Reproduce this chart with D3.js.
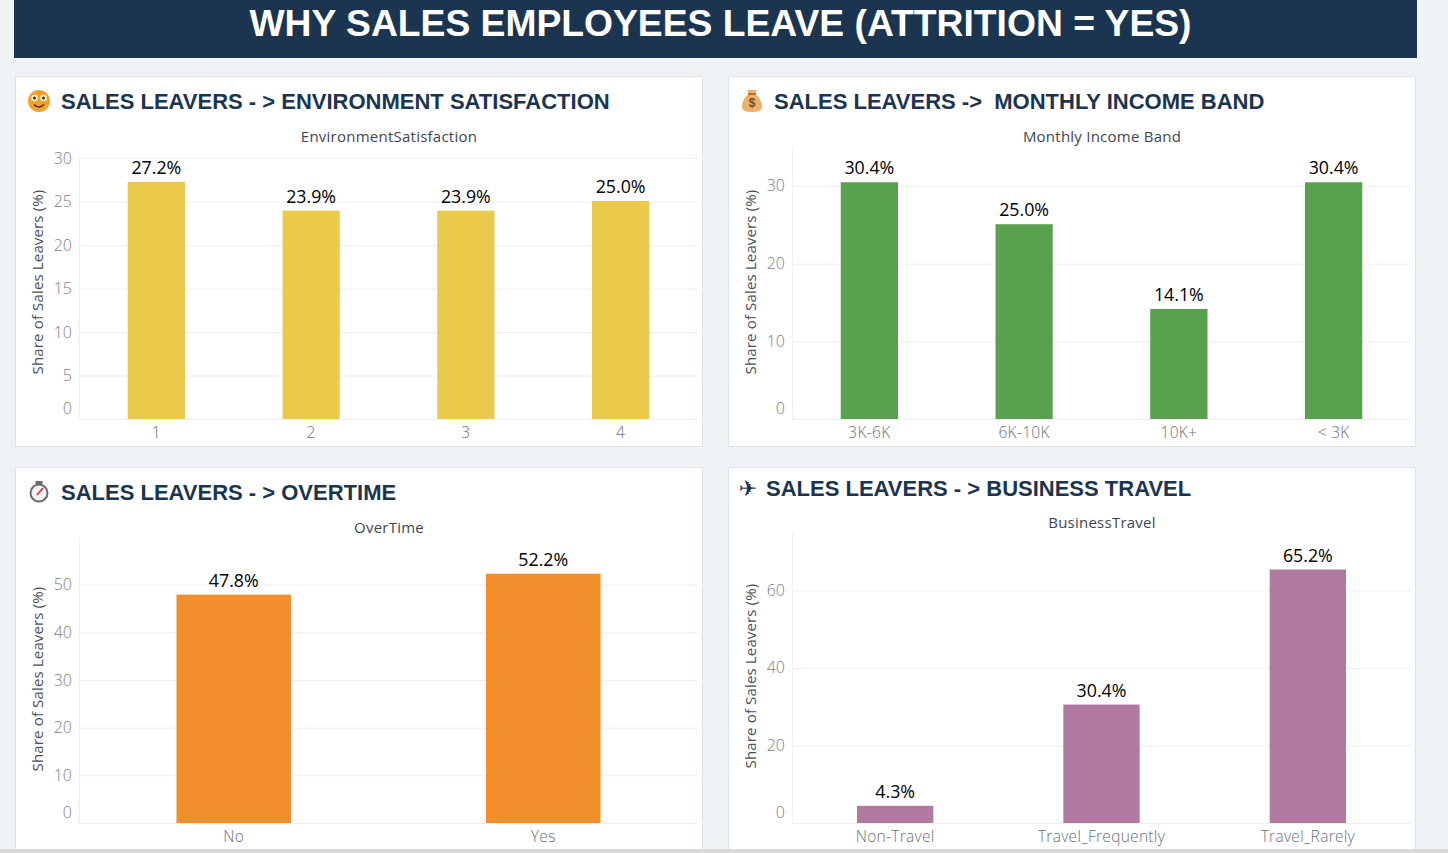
<!DOCTYPE html>
<html>
<head>
<meta charset="utf-8">
<script src="https://cdn.jsdelivr.net/npm/d3@7"></script>
<style>
  html, body { margin: 0; padding: 0; background: #eff3f6; overflow: hidden; }
  svg { display: block; }
  .axis path { display: none; }
</style>
</head>
<body>
<div id="chart"></div>
<script>
// values
var envCategories = ["1", "2", "3", "4"];
var envValues = [27.2, 23.9, 23.9, 25.0];
var envTicks = [0, 5, 10, 15, 20, 25, 30];

var incomeCategories = ["3K-6K", "6K-10K", "10K+", "< 3K"];
var incomeValues = [30.4, 25.0, 14.1, 30.4];
var incomeTicks = [0, 10, 20, 30];

var overtimeCategories = ["No", "Yes"];
var overtimeValues = [47.8, 52.2];
var overtimeTicks = [0, 10, 20, 30, 40, 50];

var travelCategories = ["Non-Travel", "Travel_Frequently", "Travel_Rarely"];
var travelValues = [4.3, 30.4, 65.2];
var travelTicks = [0, 20, 40, 60];

var width = 1448, height = 853;
var labelFont = "'Open Sans', 'Noto Sans', sans-serif";
var titleFont = "'Liberation Sans', Arial, sans-serif";

var svg = d3.select("#chart")
    .append("svg")
    .attr("width", width)
    .attr("height", height);

// banner
svg.append("rect")
    .attr("x", 14).attr("y", -2)
    .attr("width", 1403).attr("height", 60)
    .attr("fill", "#1b3550");
svg.append("text")
    .attr("x", 720.5).attr("y", 36)
    .attr("text-anchor", "middle")
    .style("font-family", titleFont)
    .style("font-weight", "bold")
    .style("font-size", "37.25px")
    .attr("fill", "#ffffff")
    .text("WHY SALES EMPLOYEES LEAVE (ATTRITION = YES)");

function drawPanel(p) {
    var g = svg.append("g");

    g.append("rect")
        .attr("x", p.x + 0.5).attr("y", p.y + 0.5)
        .attr("width", 687).attr("height", p.h)
        .attr("fill", "#ffffff")
        .attr("stroke", "#dfe3e7");

    g.append("text")
        .attr("x", p.titleX).attr("y", p.titleY)
        .attr("xml:space", "preserve")
        .style("font-family", titleFont)
        .style("font-weight", "bold")
        .style("font-size", "22px")
        .style("white-space", "pre")
        .attr("fill", "#1b3550")
        .text(p.title);

    g.append("text")
        .attr("x", p.x + 374).attr("y", p.subY)
        .attr("text-anchor", "middle")
        .style("font-family", labelFont)
        .style("font-size", "15px")
        .style("letter-spacing", "0.24px")
        .attr("fill", "#3f4650")
        .text(p.subtitle);

    var x = d3.scaleBand()
        .domain(p.categories)
        .range([p.x + 64, p.x + 683])
        .paddingInner(0.63)
        .paddingOuter(0.315);

    var y = d3.scaleLinear()
        .domain([0, p.yMax])
        .range([p.zeroY, p.topY]);

    // left edge of the plot
    g.append("line")
        .attr("x1", p.x + 64.5).attr("x2", p.x + 64.5)
        .attr("y1", p.topY).attr("y2", p.zeroY)
        .attr("stroke", "#f0f0f0");

    // y axis with gridlines
    var yAxis = g.append("g")
        .attr("class", "axis")
        .attr("transform", "translate(" + (p.x + 64) + ",0)")
        .call(d3.axisLeft(y).tickValues(p.ticks).tickSize(-619).tickPadding(7));
    yAxis.selectAll("line").attr("stroke", "#eeeeee");
    yAxis.selectAll("text")
        .style("font-family", labelFont)
        .style("font-size", "16px")
        .style("font-weight", "300")
        .attr("fill", "#7a8088")
        .attr("dy", function (d) { return d === 0 ? "-0.35em" : "0.32em"; });

    g.append("text")
        .attr("transform", "translate(" + (p.x + 28) + "," + p.yTitleY + ") rotate(-90)")
        .attr("text-anchor", "middle")
        .style("font-family", labelFont)
        .style("font-size", "15px")
        .style("letter-spacing", "0.15px")
        .attr("fill", "#4a4f57")
        .text("Share of Sales Leavers (%)");

    // x axis
    var xAxis = g.append("g")
        .attr("class", "axis")
        .attr("transform", "translate(0," + p.zeroY + ")")
        .call(d3.axisBottom(x).tickSize(0).tickPadding(8));
    xAxis.selectAll("text")
        .style("font-family", labelFont)
        .style("font-size", "15.5px")
        .style("font-weight", "300")
        .style("letter-spacing", "0.3px")
        .attr("fill", "#6a7078");

    // bars
    g.selectAll(".bar")
        .data(p.values)
        .enter()
        .append("rect")
        .attr("x", function (d, i) { return x(p.categories[i]); })
        .attr("y", function (d) { return y(d) - 0.5; })
        .attr("width", x.bandwidth())
        .attr("height", function (d) { return y(0) - y(d) + 0.5; })
        .attr("fill", p.color);

    // value labels
    g.selectAll(".val")
        .data(p.values)
        .enter()
        .append("text")
        .attr("x", function (d, i) { return x(p.categories[i]) + x.bandwidth() / 2; })
        .attr("y", function (d) { return y(d) - 8.5; })
        .attr("text-anchor", "middle")
        .style("font-family", labelFont)
        .style("font-size", "17.8px")
        .attr("fill", "#000000")
        .text(function (d) { return d.toFixed(1) + "%"; });

    return g;
}

drawPanel({
    x: 15, y: 76, h: 370, titleX: 61, titleY: 109,
    title: "SALES LEAVERS - > ENVIRONMENT SATISFACTION",
    subtitle: "EnvironmentSatisfaction", subY: 142,
    categories: envCategories, values: envValues, ticks: envTicks,
    yMax: 30, zeroY: 419, topY: 158, yTitleY: 282, color: "#ebc94a"
});
drawPanel({
    x: 728, y: 76, h: 370, titleX: 774, titleY: 109,
    title: "SALES LEAVERS ->  MONTHLY INCOME BAND",
    subtitle: "Monthly Income Band", subY: 142,
    categories: incomeCategories, values: incomeValues, ticks: incomeTicks,
    yMax: 35, zeroY: 419, topY: 147, yTitleY: 282, color: "#59a14f"
});
drawPanel({
    x: 15, y: 467, h: 400, titleX: 61, titleY: 500,
    title: "SALES LEAVERS - > OVERTIME",
    subtitle: "OverTime", subY: 533,
    categories: overtimeCategories, values: overtimeValues, ticks: overtimeTicks,
    yMax: 60, zeroY: 823, topY: 537, yTitleY: 679, color: "#f28e2b"
});
drawPanel({
    x: 728, y: 467, h: 400, titleX: 766, titleY: 496,
    title: "SALES LEAVERS - > BUSINESS TRAVEL",
    subtitle: "BusinessTravel", subY: 528,
    categories: travelCategories, values: travelValues, ticks: travelTicks,
    yMax: 75, zeroY: 823, topY: 532, yTitleY: 676, color: "#b07aa1"
});

// smiley icon
var face = svg.append("g").attr("transform", "translate(39,101)");
face.append("circle").attr("r", 11).attr("fill", "#f5a02a");
[-4.5, 4.5].forEach(function (dx) {
    face.append("circle").attr("cx", dx).attr("cy", -3).attr("r", 3.2).attr("fill", "#fff1d6");
    face.append("circle").attr("cx", dx).attr("cy", -3).attr("r", 1.5).attr("fill", "#4a2c10");
});
face.append("path")
    .attr("d", "M-5,3.5 Q0,8.5 5,3.5")
    .attr("fill", "none").attr("stroke", "#4a2c10").attr("stroke-width", 1.6);

// money bag icon
var bag = svg.append("g").attr("transform", "translate(752,101)");
bag.append("path")
    .attr("d", "M-3,-7 L-5,-11 L5,-11 L3,-7 C9,-3 10,3 10,6 C10,10 6,11 0,11 C-6,11 -10,10 -10,6 C-10,3 -9,-3 -3,-7 Z")
    .attr("fill", "#eeb06a");
bag.append("rect").attr("x", -4).attr("y", -8).attr("width", 8).attr("height", 2).attr("fill", "#b5702e");
bag.append("text")
    .attr("y", 6).attr("text-anchor", "middle")
    .style("font-family", titleFont).style("font-weight", "bold").style("font-size", "12px")
    .attr("fill", "#7a4a1c").text("$");

// stopwatch icon
var watch = svg.append("g").attr("transform", "translate(39,493)");
watch.append("rect").attr("x", -3.5).attr("y", -12).attr("width", 7).attr("height", 3).attr("fill", "#6b6b6b");
watch.append("circle").attr("r", 8.5).attr("fill", "#f4f4f4").attr("stroke", "#6b6b6b").attr("stroke-width", 2);
watch.append("line")
    .attr("x1", -2).attr("y1", 2).attr("x2", 4).attr("y2", -5)
    .attr("stroke", "#e03a2f").attr("stroke-width", 1.8);

// plane icon
svg.append("text")
    .attr("x", 748).attr("y", 496)
    .attr("text-anchor", "middle")
    .style("font-family", "'DejaVu Sans', sans-serif")
    .style("font-size", "22px")
    .attr("fill", "#1b3550")
    .text("\u2708");

// strip along the bottom of the window
svg.append("rect")
    .attr("x", 0).attr("y", 849)
    .attr("width", width).attr("height", 4)
    .attr("fill", "#d9d9d9");
</script>
</body>
</html>
